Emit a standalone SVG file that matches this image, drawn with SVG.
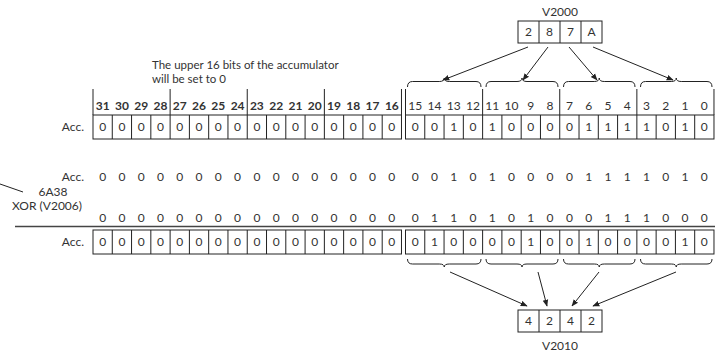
<svg xmlns="http://www.w3.org/2000/svg" width="715" height="353" viewBox="0 0 715 353">
<style>
text{font-family:Lato,"Liberation Sans",sans-serif;font-size:12px;fill:#333}
.c{text-anchor:middle}
.r{text-anchor:end}
.b{font-weight:bold}
.n{font-size:11.5px}
.box{fill:none;stroke:#222;stroke-width:1}
.ln{fill:none;stroke:#222;stroke-width:1}
.ar{fill:none;stroke:#222;stroke-width:1;marker-end:url(#ah)}
</style>
<defs>
<marker id="ah" viewBox="0 0 10 10" refX="9" refY="5" markerWidth="7" markerHeight="7" orient="auto" markerUnits="userSpaceOnUse">
<path d="M0,1 L10,5 L0,9 Z" fill="#222"/>
</marker>
</defs>

<g id="v2000">
<text class="c" x="560" y="16">V2000</text>
<rect class="box" x="518" y="21" width="84" height="22"/>
<path class="ln" d="M539,21V43M560,21V43M581,21V43"/>
<text class="c" x="528.5" y="36">2</text>
<text class="c" x="549.5" y="36">8</text>
<text class="c" x="570.5" y="36">7</text>
<text class="c" x="591.5" y="36">A</text>
</g>

<g id="note">
<text class="n" x="152" y="69">The upper 16 bits of the accumulator</text>
<text class="n" x="152" y="83">will be set to 0</text>
</g>

<g id="header">
<path class="ln" d="M93,89V115M170.12,89V115M247.24,89V115M324.36,89V115M401.48,89V115M405.5,89V115M482.62,89V115M559.74,89V115M636.86,89V115M713.98,89V115"/>
<text class="c b" x="102.64" y="110">31</text><text class="c b" x="121.92" y="110">30</text><text class="c b" x="141.2" y="110">29</text><text class="c b" x="160.48" y="110">28</text>
<text class="c b" x="179.76" y="110">27</text><text class="c b" x="199.04" y="110">26</text><text class="c b" x="218.32" y="110">25</text><text class="c b" x="237.6" y="110">24</text>
<text class="c b" x="256.88" y="110">23</text><text class="c b" x="276.16" y="110">22</text><text class="c b" x="295.44" y="110">21</text><text class="c b" x="314.72" y="110">20</text>
<text class="c b" x="334" y="110">19</text><text class="c b" x="353.28" y="110">18</text><text class="c b" x="372.56" y="110">17</text><text class="c b" x="391.84" y="110">16</text>
<text class="c" x="415.14" y="110">15</text><text class="c" x="434.42" y="110">14</text><text class="c" x="453.7" y="110">13</text><text class="c" x="472.98" y="110">12</text>
<text class="c" x="492.26" y="110">11</text><text class="c" x="511.54" y="110">10</text><text class="c" x="530.82" y="110">9</text><text class="c" x="550.1" y="110">8</text>
<text class="c" x="569.38" y="110">7</text><text class="c" x="588.66" y="110">6</text><text class="c" x="607.94" y="110">5</text><text class="c" x="627.22" y="110">4</text>
<text class="c" x="646.5" y="110">3</text><text class="c" x="665.78" y="110">2</text><text class="c" x="685.06" y="110">1</text><text class="c" x="704.34" y="110">0</text>
</g>

<g id="acc1">
<text class="r" x="84" y="131">Acc.</text>
<rect class="box" x="93" y="115" width="308.48" height="24"/>
<rect class="box" x="405.5" y="115" width="308.48" height="24"/>
<path class="ln" d="M112.28,115V139M131.56,115V139M150.84,115V139M170.12,115V139M189.4,115V139M208.68,115V139M227.96,115V139M247.24,115V139M266.52,115V139M285.8,115V139M305.08,115V139M324.36,115V139M343.64,115V139M362.92,115V139M382.2,115V139M424.78,115V139M444.06,115V139M463.34,115V139M482.62,115V139M501.9,115V139M521.18,115V139M540.46,115V139M559.74,115V139M579.02,115V139M598.3,115V139M617.58,115V139M636.86,115V139M656.14,115V139M675.42,115V139M694.7,115V139"/>
<text class="c" x="102.64" y="131">0</text><text class="c" x="121.92" y="131">0</text><text class="c" x="141.2" y="131">0</text><text class="c" x="160.48" y="131">0</text>
<text class="c" x="179.76" y="131">0</text><text class="c" x="199.04" y="131">0</text><text class="c" x="218.32" y="131">0</text><text class="c" x="237.6" y="131">0</text>
<text class="c" x="256.88" y="131">0</text><text class="c" x="276.16" y="131">0</text><text class="c" x="295.44" y="131">0</text><text class="c" x="314.72" y="131">0</text>
<text class="c" x="334" y="131">0</text><text class="c" x="353.28" y="131">0</text><text class="c" x="372.56" y="131">0</text><text class="c" x="391.84" y="131">0</text>
<text class="c" x="415.14" y="131">0</text><text class="c" x="434.42" y="131">0</text><text class="c" x="453.7" y="131">1</text><text class="c" x="472.98" y="131">0</text>
<text class="c" x="492.26" y="131">1</text><text class="c" x="511.54" y="131">0</text><text class="c" x="530.82" y="131">0</text><text class="c" x="550.1" y="131">0</text>
<text class="c" x="569.38" y="131">0</text><text class="c" x="588.66" y="131">1</text><text class="c" x="607.94" y="131">1</text><text class="c" x="627.22" y="131">1</text>
<text class="c" x="646.5" y="131">1</text><text class="c" x="665.78" y="131">0</text><text class="c" x="685.06" y="131">1</text><text class="c" x="704.34" y="131">0</text>
</g>

<g id="acc2">
<text class="r" x="84" y="181">Acc.</text>
<text class="c" x="102.64" y="181">0</text><text class="c" x="121.92" y="181">0</text><text class="c" x="141.2" y="181">0</text><text class="c" x="160.48" y="181">0</text>
<text class="c" x="179.76" y="181">0</text><text class="c" x="199.04" y="181">0</text><text class="c" x="218.32" y="181">0</text><text class="c" x="237.6" y="181">0</text>
<text class="c" x="256.88" y="181">0</text><text class="c" x="276.16" y="181">0</text><text class="c" x="295.44" y="181">0</text><text class="c" x="314.72" y="181">0</text>
<text class="c" x="334" y="181">0</text><text class="c" x="353.28" y="181">0</text><text class="c" x="372.56" y="181">0</text><text class="c" x="391.84" y="181">0</text>
<text class="c" x="415.14" y="181">0</text><text class="c" x="434.42" y="181">0</text><text class="c" x="453.7" y="181">1</text><text class="c" x="472.98" y="181">0</text>
<text class="c" x="492.26" y="181">1</text><text class="c" x="511.54" y="181">0</text><text class="c" x="530.82" y="181">0</text><text class="c" x="550.1" y="181">0</text>
<text class="c" x="569.38" y="181">0</text><text class="c" x="588.66" y="181">1</text><text class="c" x="607.94" y="181">1</text><text class="c" x="627.22" y="181">1</text>
<text class="c" x="646.5" y="181">1</text><text class="c" x="665.78" y="181">0</text><text class="c" x="685.06" y="181">1</text><text class="c" x="704.34" y="181">0</text>
</g>

<g id="xor">
<text class="c" x="53" y="196">6A38</text>
<text class="r" x="82" y="210">XOR (V2006)</text>
<text class="c" x="102.64" y="222">0</text><text class="c" x="121.92" y="222">0</text><text class="c" x="141.2" y="222">0</text><text class="c" x="160.48" y="222">0</text>
<text class="c" x="179.76" y="222">0</text><text class="c" x="199.04" y="222">0</text><text class="c" x="218.32" y="222">0</text><text class="c" x="237.6" y="222">0</text>
<text class="c" x="256.88" y="222">0</text><text class="c" x="276.16" y="222">0</text><text class="c" x="295.44" y="222">0</text><text class="c" x="314.72" y="222">0</text>
<text class="c" x="334" y="222">0</text><text class="c" x="353.28" y="222">0</text><text class="c" x="372.56" y="222">0</text><text class="c" x="391.84" y="222">0</text>
<text class="c" x="415.14" y="222">0</text><text class="c" x="434.42" y="222">1</text><text class="c" x="453.7" y="222">1</text><text class="c" x="472.98" y="222">0</text>
<text class="c" x="492.26" y="222">1</text><text class="c" x="511.54" y="222">0</text><text class="c" x="530.82" y="222">1</text><text class="c" x="550.1" y="222">0</text>
<text class="c" x="569.38" y="222">0</text><text class="c" x="588.66" y="222">0</text><text class="c" x="607.94" y="222">1</text><text class="c" x="627.22" y="222">1</text>
<text class="c" x="646.5" y="222">1</text><text class="c" x="665.78" y="222">0</text><text class="c" x="685.06" y="222">0</text><text class="c" x="704.34" y="222">0</text>
<path d="M15,226.5H715" stroke="#444" stroke-width="1.5" fill="none"/>
</g>

<g id="acc3">
<text class="r" x="84" y="246">Acc.</text>
<rect class="box" x="93" y="230" width="308.48" height="24"/>
<rect class="box" x="405.5" y="230" width="308.48" height="24"/>
<path class="ln" d="M112.28,230V254M131.56,230V254M150.84,230V254M170.12,230V254M189.4,230V254M208.68,230V254M227.96,230V254M247.24,230V254M266.52,230V254M285.8,230V254M305.08,230V254M324.36,230V254M343.64,230V254M362.92,230V254M382.2,230V254M424.78,230V254M444.06,230V254M463.34,230V254M482.62,230V254M501.9,230V254M521.18,230V254M540.46,230V254M559.74,230V254M579.02,230V254M598.3,230V254M617.58,230V254M636.86,230V254M656.14,230V254M675.42,230V254M694.7,230V254"/>
<text class="c" x="102.64" y="246">0</text><text class="c" x="121.92" y="246">0</text><text class="c" x="141.2" y="246">0</text><text class="c" x="160.48" y="246">0</text>
<text class="c" x="179.76" y="246">0</text><text class="c" x="199.04" y="246">0</text><text class="c" x="218.32" y="246">0</text><text class="c" x="237.6" y="246">0</text>
<text class="c" x="256.88" y="246">0</text><text class="c" x="276.16" y="246">0</text><text class="c" x="295.44" y="246">0</text><text class="c" x="314.72" y="246">0</text>
<text class="c" x="334" y="246">0</text><text class="c" x="353.28" y="246">0</text><text class="c" x="372.56" y="246">0</text><text class="c" x="391.84" y="246">0</text>
<text class="c" x="415.14" y="246">0</text><text class="c" x="434.42" y="246">1</text><text class="c" x="453.7" y="246">0</text><text class="c" x="472.98" y="246">0</text>
<text class="c" x="492.26" y="246">0</text><text class="c" x="511.54" y="246">0</text><text class="c" x="530.82" y="246">1</text><text class="c" x="550.1" y="246">0</text>
<text class="c" x="569.38" y="246">0</text><text class="c" x="588.66" y="246">1</text><text class="c" x="607.94" y="246">0</text><text class="c" x="627.22" y="246">0</text>
<text class="c" x="646.5" y="246">0</text><text class="c" x="665.78" y="246">0</text><text class="c" x="685.06" y="246">1</text><text class="c" x="704.34" y="246">0</text>
</g>

<g id="v2010">
<rect class="box" x="518" y="310" width="84" height="22"/>
<path class="ln" d="M539,310V332M560,310V332M581,310V332"/>
<text class="c" x="528.5" y="325">4</text>
<text class="c" x="549.5" y="325">2</text>
<text class="c" x="570.5" y="325">4</text>
<text class="c" x="591.5" y="325">2</text>
<text class="c" x="560" y="350">V2010</text>
</g>

<g id="connectors">
<path class="ln" d="M0,184L23,192"/>
<path class="ln" d="M407.5,87Q407.5,81.5 412.5,81.5L439.25,81.5Q444.25,81.5 444.25,78Q444.25,81.5 449.25,81.5L476,81.5Q481,81.5 481,87"/>
<path class="ln" d="M486,87Q486,81.5 491,81.5L517,81.5Q522,81.5 522,78Q522,81.5 527,81.5L553,81.5Q558,81.5 558,87"/>
<path class="ln" d="M563.5,87Q563.5,81.5 568.5,81.5L594.25,81.5Q599.25,81.5 599.25,78Q599.25,81.5 604.25,81.5L630,81.5Q635,81.5 635,87"/>
<path class="ln" d="M640.5,87Q640.5,81.5 645.5,81.5L671.25,81.5Q676.25,81.5 676.25,78Q676.25,81.5 681.25,81.5L707,81.5Q712,81.5 712,87"/>
<path class="ln" d="M407.5,259Q407.5,264 412.5,264L439.25,264Q444.25,264 444.25,267Q444.25,264 449.25,264L476,264Q481,264 481,259"/>
<path class="ln" d="M486,259Q486,264 491,264L517,264Q522,264 522,267Q522,264 527,264L553,264Q558,264 558,259"/>
<path class="ln" d="M563.5,259Q563.5,264 568.5,264L594.25,264Q599.25,264 599.25,267Q599.25,264 604.25,264L630,264Q635,264 635,259"/>
<path class="ln" d="M640.5,259Q640.5,264 645.5,264L671.25,264Q676.25,264 676.25,267Q676.25,264 681.25,264L707,264Q712,264 712,259"/>
<path class="ar" d="M528,47L443,80"/>
<path class="ar" d="M548,47L523,80"/>
<path class="ar" d="M569,47L597,80"/>
<path class="ar" d="M593,47L673,80"/>
<path class="ar" d="M450,272L527,306"/>
<path class="ar" d="M538,272L547,306"/>
<path class="ar" d="M599,272L572,306"/>
<path class="ar" d="M676,272L593,306"/>
</g>
</svg>
